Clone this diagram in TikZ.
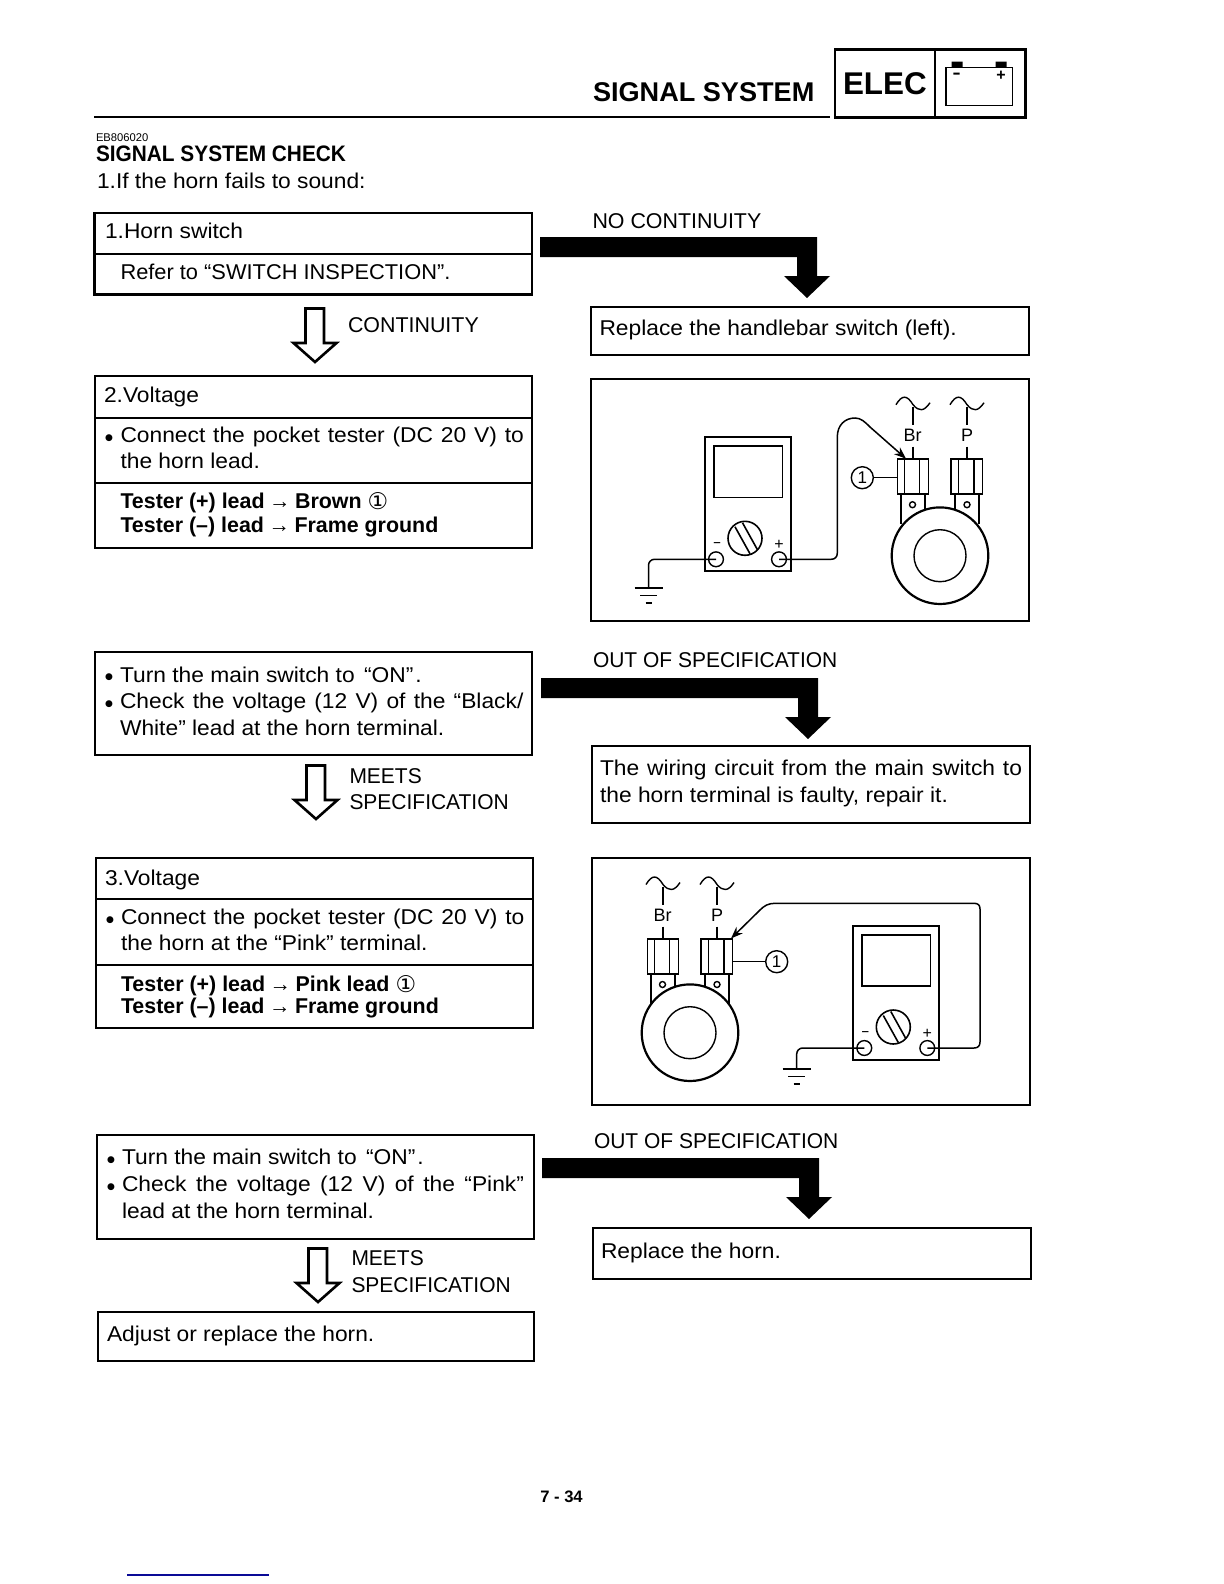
\documentclass[tikz,border=0pt]{standalone}
\usepackage{fontspec}
\setmainfont{Liberation Sans}
\newfontfamily\symfont{DejaVu Sans}
\newfontfamily\widefont[FakeStretch=1.065]{Liberation Sans}
\newfontfamily\midfont[FakeStretch=1.02]{Liberation Sans}
\newfontfamily\capfont[FakeStretch=0.98]{Liberation Sans}
\usetikzlibrary{fit,arrows.meta}
\newcommand{\oneb}{\raisebox{-0.9pt}{\symfont\mdseries\fontsize{11.5}{12}\selectfont ①}}
\newcommand{\arr}{{\mdseries\kern-0.7pt→\kern-0.7pt}}
\definecolor{scanblue}{RGB}{10,10,150}
\tikzset{
  body/.style={anchor=base west,inner sep=0pt,outer sep=0pt,font=\widefont\fontsize{10.7}{12}\selectfont},
  bodymid/.style={body,font=\midfont\fontsize{10.7}{12}\selectfont},
  bodycap/.style={body,font=\capfont\fontsize{10.7}{12}\selectfont},
  bodyplain/.style={body,font=\fontsize{10.7}{12}\selectfont},
  bodyb/.style={body,font=\fontsize{10.7}{12}\selectfont\bfseries},
  bulletmark/.style={anchor=center,inner sep=0pt,font=\symfont\fontsize{4.5}{5}\selectfont},
  frame/.style={draw=black,line width=1.4pt,inner sep=0pt,outer sep=0pt,fit={#1}},
  thin rule/.style={line width=0.8pt},
  thick rule/.style={line width=1.4pt},
  hollow/.style={draw=black,fill=white,line width=1.3pt,line join=miter},
  solid/.style={fill=black,draw=none},
  lineart/.style={draw=black,line width=0.7pt},
  partline/.style={draw=black,line width=0.95pt},
  wire/.style={draw=black,line width=0.75pt},
  probe/.style={wire,-{Stealth[length=6pt,width=4.5pt]}},
  callout/.style={circle,draw=black,line width=0.7pt,inner sep=0pt,minimum size=11pt,font=\fontsize{8.5}{9}\selectfont},
  term/.style={circle,draw=black,line width=0.7pt,inner sep=0pt,minimum size=7.4pt},
  partlabel/.style={inner sep=0pt,font=\fontsize{9}{10}\selectfont},
  signlabel/.style={inner sep=0pt,font=\fontsize{8}{9}\selectfont},
}
\newcommand{\solidarr}[2]{\fill[solid,shift={(#1,#2)}] (0,0) -- (277,0) -- (277,39) -- (290,39) -- (267,61) -- (244,39) -- (257,39) -- (257,20) -- (0,20) -- cycle;}
\newcommand{\hollowarr}[2]{\draw[hollow,shift={(#1,#2)}] (0.5,0.5) -- (19,0.5) -- (19,35) -- (31.5,35) -- (10,54) -- (-11.5,35) -- (0.5,35) -- cycle;}
% #1 prefix, #2 x,#3 y = reference point of the terminals, #4 y offset of the horn body
\newcommand{\hornpart}[4]{%
  \begin{scope}[shift={(#2,#3)}]
    \draw[partline] (-39,-61) -- (-39,-32);
    \draw[partline] (-15,-61) -- (-15,-47);
    \draw[partline] (15,-61) -- (15,-47);
    \draw[partline] (39,-61) -- (39,-32);
    \draw[lineart] (-27.5,-51) circle (3);
    \draw[lineart] (27,-51) circle (3);
    \draw[partline] (-42.5,-96.5) rectangle (-11.5,-61.5);
    \draw[lineart] (-35.5,-96.5) -- (-35.5,-61.5) (-20.5,-96.5) -- (-20.5,-61.5);
    \draw[partline] (11,-96.5) rectangle (42.5,-61.5);
    \draw[lineart] (18.3,-96.5) -- (18.3,-61.5) (34,-96.5) -- (34,-61.5);
    \coordinate (#1Btop) at (-34,-97);
    \coordinate (#1Ptop) at (41,-97);
    \coordinate (#1Bwest) at (-42.5,-78);
    \coordinate (#1Peast) at (42.5,-78);
    \node[partlabel] (#1Br) at (-27.5,-120) {Br};
    \node[partlabel] (#1P) at (27,-120) {P};
    \draw[lineart] (-27,-149) -- (-27,-131) (-27,-109) -- (-27,-96.5);
    \draw[lineart] (27,-149) -- (27,-131) (27,-109) -- (27,-96.5);
    \draw[lineart] (-44,-151) .. controls (-38,-161) and (-33,-161) .. (-27,-151) .. controls (-21,-144) and (-16,-144) .. (-10,-153);
    \draw[lineart] (10,-151) .. controls (16,-161) and (21,-161) .. (27,-151) .. controls (33,-144) and (38,-144) .. (44,-153);
    \draw[draw=black,fill=white,line width=1.1pt] (0,#4) circle (48.3);
    \draw[lineart] (0,#4) circle (26);
  \end{scope}}
% #1 prefix, #2 x,#3 y = top-left corner of meter
\newcommand{\meterpart}[3]{%
  \begin{scope}[shift={(#2,#3)}]
    \node[frame={(0,0)(86,134)},line width=1pt] (#1body) {};
    \draw[lineart,line width=0.8pt] (8.7,8.7) rectangle (77.3,60);
    \draw[lineart,line width=0.8pt] (40,101) circle (17);
    \draw[lineart,line width=0.8pt] (30,89.5) -- (45,116.5) (37.5,85.5) -- (52.5,112.5);
    \node[term] (#1minus) at (11,122) {};
    \node[term] (#1plus) at (74,122) {};
    \node[signlabel] (#1msign) at (12,108) {\symfont –};
    \node[signlabel] (#1psign) at (74,107.5) {+};
  \end{scope}}
% #1 prefix; #2,#3 top of the ground symbol
\newcommand{\groundpart}[3]{%
  \begin{scope}[shift={(#2,#3)}]
    \coordinate (#1top) at (0,0);
    \draw[line width=1pt] (-14,0) -- (14,0);
    \draw[line width=0.9pt] (-8.5,8) -- (8.5,8);
    \draw[line width=0.9pt] (-3,15.5) -- (3,15.5);
  \end{scope}}
\begin{document}
\begin{tikzpicture}[x=0.5pt,y=-0.5pt,line cap=butt]
\useasboundingbox[fill=white] (0,0) rectangle (1224,1584);

% ---- header ----
\node[bodyb,font=\fontsize{13.55}{14}\selectfont\bfseries] (title) at (593,102) {SIGNAL SYSTEM};
\draw[line width=1pt] (94,117) -- (830,117);
\node[frame={(835,49.5)(1025.5,117.5)}] (tab) {};
\draw[line width=1.4pt] (935,49.5) -- (935,117.5);
\node[bodyb,font=\fontsize{15.7}{18}\selectfont\bfseries] (elec) at (843,95) {ELEC};
\draw[line width=0.7pt] (946,67.3) rectangle (1012.7,105.7);
\fill (951.7,61.7) rectangle (962.7,67.3) (995.7,61.7) rectangle (1006.7,67.3);
\node[inner sep=0pt,font=\fontsize{8}{9}\selectfont\bfseries] (battm) at (956.7,76) {\symfont –};
\node[inner sep=0pt,font=\fontsize{8}{9}\selectfont\bfseries] (battp) at (1001,75.5) {+};

\node[body,font=\fontsize{5.6}{6}\selectfont] (code) at (96,141) {EB806020};
\node[bodyb,font=\fontsize{11.2}{14}\selectfont\bfseries] (heading) at (96,162) {\scalebox{0.93}[1]{SIGNAL SYSTEM CHECK}};
\node[body] (intro) at (97,188) {1.If the horn fails to sound:};

% ---- left column boxes ----
\node[frame={(94.5,213)(532,294.5)}] (b1) {};
\draw[thin rule] (b1.west |- 0,254) -- (b1.east |- 0,254);
\node[body] (b1a) at (105,238) {1.Horn switch};
\node[bodymid] (b1b) at (120.5,279) {Refer to “SWITCH INSPECTION”.};

\hollowarr{305}{308}
\node[bodyplain] (c1) at (348,332) {CONTINUITY};

\node[frame={(95,376)(532,548)}] (b2) {};
\draw[thin rule] (b2.west |- 0,418) -- (b2.east |- 0,418);
\draw[thick rule] (b2.west |- 0,483) -- (b2.east |- 0,483);
\node[body] (b2a) at (104,402) {2.Voltage};
\node[bulletmark] (b2u) at (109,438) {●};
\node[body] (b2b) at (120.5,442) {\makebox[201.7pt][s]{Connect the pocket tester (DC 20 V) to}};
\node[body] (b2c) at (120.5,468) {the horn lead.};
\node[bodyb] (b2d) at (120.5,508) {Tester (+) lead \arr\ Brown \oneb};
\node[bodyb] (b2e) at (120.5,532) {Tester (–) lead \arr\ Frame ground};

\node[frame={(95,652)(532,755)}] (b3) {};
\node[bulletmark] (b3u) at (109,677) {●};
\node[body] (b3a) at (120,682) {Turn the main switch to \kern1.5pt“ON”\kern1pt.};
\node[bulletmark] (b3v) at (109,704) {●};
\node[body] (b3b) at (120,708) {\makebox[201.7pt][s]{Check the voltage (12 V) of the “Black/}};
\node[body] (b3c) at (120,735) {White” lead at the horn terminal.};

\hollowarr{306}{765}
\node[bodycap] (c2a) at (349.5,783) {MEETS};
\node[bodycap] (c2b) at (349.5,809) {SPECIFICATION};

\node[frame={(96,858)(533,1028)}] (b4) {};
\draw[thin rule] (b4.west |- 0,899) -- (b4.east |- 0,899);
\draw[thick rule] (b4.west |- 0,965) -- (b4.east |- 0,965);
\node[body] (b4a) at (105,885) {3.Voltage};
\node[bulletmark] (b4u) at (110,920) {●};
\node[body] (b4b) at (121,924) {\makebox[201.7pt][s]{Connect the pocket tester (DC 20 V) to}};
\node[body] (b4c) at (121,950) {the horn at the “Pink” terminal.};
\node[bodyb] (b4d) at (121,991) {Tester (+) lead \arr\ Pink lead \oneb};
\node[bodyb] (b4e) at (121,1013) {Tester (–) lead \arr\ Frame ground};

\node[frame={(97,1135)(534,1239)}] (b5) {};
\node[bulletmark] (b5u) at (111,1160) {●};
\node[body] (b5a) at (122,1164.5) {Turn the main switch to \kern1.5pt“ON”\kern1pt.};
\node[bulletmark] (b5v) at (111,1187) {●};
\node[body] (b5b) at (122,1191) {\makebox[201pt][s]{Check the voltage (12 V) of the “Pink”}};
\node[body] (b5c) at (122,1218) {lead at the horn terminal.};

\hollowarr{308}{1248}
\node[bodycap] (c3a) at (351.5,1265.5) {MEETS};
\node[bodycap] (c3b) at (351.5,1292) {SPECIFICATION};

\node[frame={(98,1312)(534,1361)}] (b6) {};
\node[body] (b6a) at (107,1341) {Adjust or replace the horn.};

% ---- right column ----
\node[bodyplain] (n1) at (592.5,228) {NO CONTINUITY};
\solidarr{540}{237}
\node[frame={(591,307)(1029,355)}] (r1) {};
\node[body] (r1a) at (599.5,335) {Replace the handlebar switch (left).};

% diagram 1
\node[frame={(591,379)(1029,621)}] (d1) {};
\hornpart{hA}{940}{555.7}{0}
\meterpart{mA}{705}{437.3}
\groundpart{gA}{648.5}{587.5}
\node[callout] (cA) at (862.3,477.7) {1};
\draw[lineart] (cA.east) -- (hABwest |- cA.east);
\draw[wire,rounded corners=3pt] (mAminus.center) -- (gAtop |- mAminus.center) -- (gAtop);
\draw[probe] (mAplus.center) -- (831,559.3) .. controls (835,559.3) and (837.3,557) .. (837.3,553) -- (837.3,437) .. controls (837.3,425) and (845,418) .. (855,418) .. controls (861,418) and (865,422) .. (870,427) -- (hABtop);

\node[bodycap] (n2) at (593,667.5) {OUT OF SPECIFICATION};
\solidarr{541}{678}
\node[frame={(592,746)(1030,823)}] (r2) {};
\node[body] (r2a) at (600,775) {\makebox[211pt][s]{The wiring circuit from the main switch to}};
\node[body] (r2b) at (600,802) {the horn terminal is faulty, repair it.};

% diagram 2
\node[frame={(592,858)(1030,1105)}] (d2) {};
\hornpart{hB}{690}{1035.5}{-2.8}
\meterpart{mB}{853.3}{926}
\groundpart{gB}{796.7}{1068.5}
\node[callout] (cB) at (776.7,961.7) {1};
\draw[lineart] (cB.west) -- (hBPeast |- cB.west);
\draw[wire,rounded corners=3pt] (mBminus.center) -- (gBtop |- mBminus.center) -- (gBtop);
\draw[probe] (mBplus.center) -- (974,1048) .. controls (978,1048) and (980,1046) .. (980,1042) -- (980,909) .. controls (980,905) and (978,903.3) .. (974,903.3) -- (775,903.3) .. controls (768,903.3) and (764,906) .. (760,910) -- (hBPtop);

\node[bodycap] (n3) at (594,1148) {OUT OF SPECIFICATION};
\solidarr{542}{1158}
\node[frame={(593,1228)(1031,1279)}] (r3) {};
\node[body] (r3a) at (601,1258.5) {Replace the horn.};

% ---- footer ----
\node[anchor=base,inner sep=0pt,font=\fontsize{8.3}{9}\selectfont\bfseries] (page) at (561.5,1502) {7 - 34};
\draw[scanblue,line width=0.6pt] (127,1575) -- (269,1575);
\end{tikzpicture}
\end{document}
